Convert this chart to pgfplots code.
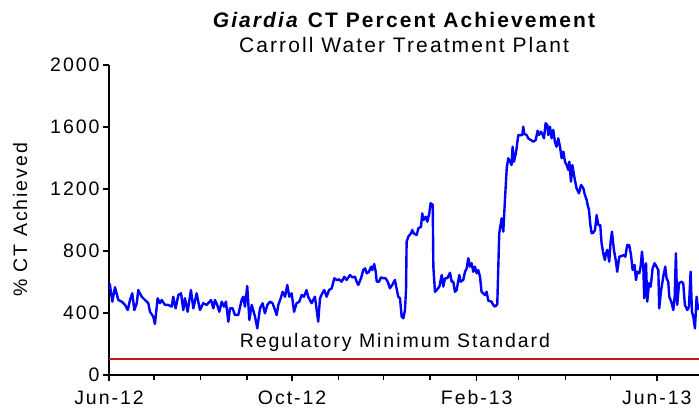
\documentclass[border=0pt]{standalone}
\usepackage{fontspec}
\setmainfont{Liberation Sans}[LetterSpace=10]
\usepackage{pgfplots}
\pgfplotsset{compat=1.18}
\definecolor{lineblue}{RGB}{0,0,255}
\definecolor{regred}{RGB}{200,20,20}
\begin{document}
\begin{tikzpicture}
\begin{axis}[
  name=ax,
  scale only axis,
  width=590pt, height=310pt,
  xmin=0, xmax=393.1,
  ymin=0, ymax=2000,
  axis x line*=bottom, axis y line*=left,
  axis line style={line width=2.4pt, black},
  xtick={0,122,245,365},
  xticklabels={Jun-12,Oct-12,Feb-13,Jun-13},
  minor xtick={30,61,92,153,183,214,273,304,334},
  ytick={0,400,800,1200,1600,2000},
  tick align=outside,
  major tick length=6pt, minor tick length=5pt,
  every tick/.style={line width=1.5pt, black},
  tick label style={font=\fontsize{19.5}{21}\selectfont},
  xticklabel style={yshift=-6pt},
  /pgf/number format/assume math mode=true,
  /pgf/number format/1000 sep={},
  ylabel={\% CT Achieved},
  ylabel style={font=\fontsize{19.5}{21}\selectfont, yshift=16pt},
  clip=false,
]
\addplot[draw=regred, color=regred, line width=2pt] coordinates {(0,100) (393.1,100)};
\addplot[lineblue, line width=2.4pt, line join=round] coordinates {
(0.5,590) (2.2,473) (4,566) (6.2,484) (8.5,473) (10.7,452) (12.5,419) (14,484) (15.5,527) (16.9,419)
(18.5,463) (19.5,548) (21.8,505) (24,484) (26.2,463) (27.3,408) (29.5,376) (30.6,329) (32.4,495) (34,463)
(35.1,484) (37.3,452) (39.5,452) (41.8,441) (42.8,505) (44.4,430) (46.2,516) (48,527) (49.5,419) (50.6,495)
(52.4,408) (54.6,548) (56.2,430) (58.4,527) (60.6,419) (62.8,463) (65.1,452) (68,484) (69.5,430) (70.6,484)
(72.1,452) (73.5,408) (75.1,473) (76.6,441) (77.9,473) (79.5,344) (80.6,430) (82.4,430) (83.9,387) (86.1,387)
(88.4,484) (89.5,505) (90.6,441) (92.1,574) (93.5,355) (95.1,452) (97.3,376) (98.8,301) (100.6,430) (102.3,463)
(103.9,398) (105.5,452) (107.3,473) (109,463) (110.6,419) (111.7,387) (112.8,452) (114.4,495) (115.7,537) (117.3,505)
(118.8,581) (120.1,505) (121.7,527) (123.3,408) (125,463) (126.8,473) (128.4,516) (129.9,505) (131.6,548) (132.7,505)
(135,463) (137.2,505) (139.4,344) (140.6,495) (142.1,527) (143.4,548) (145,505) (146.6,548) (148.4,559) (150.1,624)
(151.7,613) (153.2,617) (155,602) (156.8,634) (158.3,613) (160.6,645) (162.1,630) (163.9,634) (165,602) (166.1,581)
(167.9,624) (169.4,677) (170.6,688) (171.7,656) (173.2,666) (174.6,699) (175.4,677) (176.7,716) (177.7,666) (178.4,602)
(179.9,602) (181.2,630) (182.7,624) (184.3,624) (185.7,602) (187.2,559) (188.7,581) (190.5,613) (191.6,559) (192.7,505)
(193.9,495) (195,376) (196.1,366) (197.2,419) (197.9,548) (198.3,860) (199.4,892) (201.2,914) (202.1,935) (203,914)
(205,903) (206.1,946) (207.9,957) (208.7,1043) (209.6,1000) (211.2,1021) (212.1,989) (213.4,1043) (214.3,1108) (215.7,1097)
(216.1,699) (217.2,537) (218.3,548) (220.1,570) (221.7,645) (222.7,570) (223.9,624) (225.4,624) (227.2,660) (228.3,602)
(229.4,602) (230.5,537) (231.6,548) (233.4,645) (234.3,602) (236,613) (237.2,666) (238.3,688) (239.4,753) (240.5,699)
(241.6,721) (242.7,666) (243.8,699) (245,656) (246,677) (247.2,634) (248.2,537) (250.5,516) (251.6,537) (252.7,479)
(254.9,473) (256,452) (257.2,441) (258.7,456) (260,914) (261.6,1011) (262.7,925) (263.8,1129) (265,1334) (266,1398)
(267.2,1376) (268.2,1355) (268.9,1473) (269.8,1376) (271.1,1430) (272.7,1548) (274.5,1548) (275.4,1548) (276,1602) (276.7,1555)
(278.3,1548) (279.3,1527) (281.1,1516) (282.7,1505) (284.3,1516) (285.6,1576) (286.5,1548) (287.8,1570) (288.7,1555) (289.8,1527)
(290.9,1624) (292,1613) (292.7,1548) (293.8,1602) (294.9,1527) (296,1581) (297.1,1505) (298.2,1473) (299.3,1527) (300.5,1473)
(301.6,1398) (302.7,1441) (303.8,1376) (304.9,1355) (306,1323) (306.7,1376) (307.8,1247) (308.7,1355) (310,1279) (311.5,1205)
(313.1,1172) (314.5,1226) (316,1205) (317.1,1161) (318.3,1129) (318.9,1097) (319.8,1065) (320.7,968) (321.6,914) (322.7,918)
(323.8,935) (324.9,1032) (326,968) (327.3,968) (328.2,850) (329.3,785) (330.4,742) (331.1,785) (332,807) (333.3,731)
(334.2,860) (335.1,925) (336.4,807) (337.8,731) (338.6,666) (340,763) (341.6,768) (343.1,774) (344,763) (345.3,839)
(346.6,839) (347.8,774) (348.9,677) (350.2,710) (351.1,613) (352,666) (353.3,656) (354.2,699) (355.1,796) (356,699)
(356.6,495) (357.8,721) (358.6,473) (359.8,592) (360.9,570) (362.2,688) (363.5,721) (364.8,699) (366,677) (366.6,430)
(367.7,537) (369.3,634) (370.6,699) (371.5,624) (372.6,602) (373.3,505) (374.6,473) (376,419) (376.9,505) (377.7,785)
(378.6,452) (379.8,592) (381.5,602) (382.6,592) (383.7,452) (385.3,419) (386.4,441) (387.5,666) (388.4,408) (389.3,376)
(390.4,301) (391.5,505) (392.6,419)
};
\node[font=\fontsize{19.5}{21}\selectfont] at (axis cs:190.5,213) {Regulatory Minimum Standard};
\end{axis}
\node[font=\fontsize{21}{23}\selectfont\bfseries, anchor=base] at (295pt,347pt) {\textit{Giardia} CT Percent Achievement};
\node[font=\fontsize{21}{23}\selectfont, anchor=base] at (295pt,322pt) {Carroll Water Treatment Plant};
\pgfresetboundingbox
\path (-109pt,-39pt) rectangle (590pt,375pt);
\end{tikzpicture}
\end{document}
